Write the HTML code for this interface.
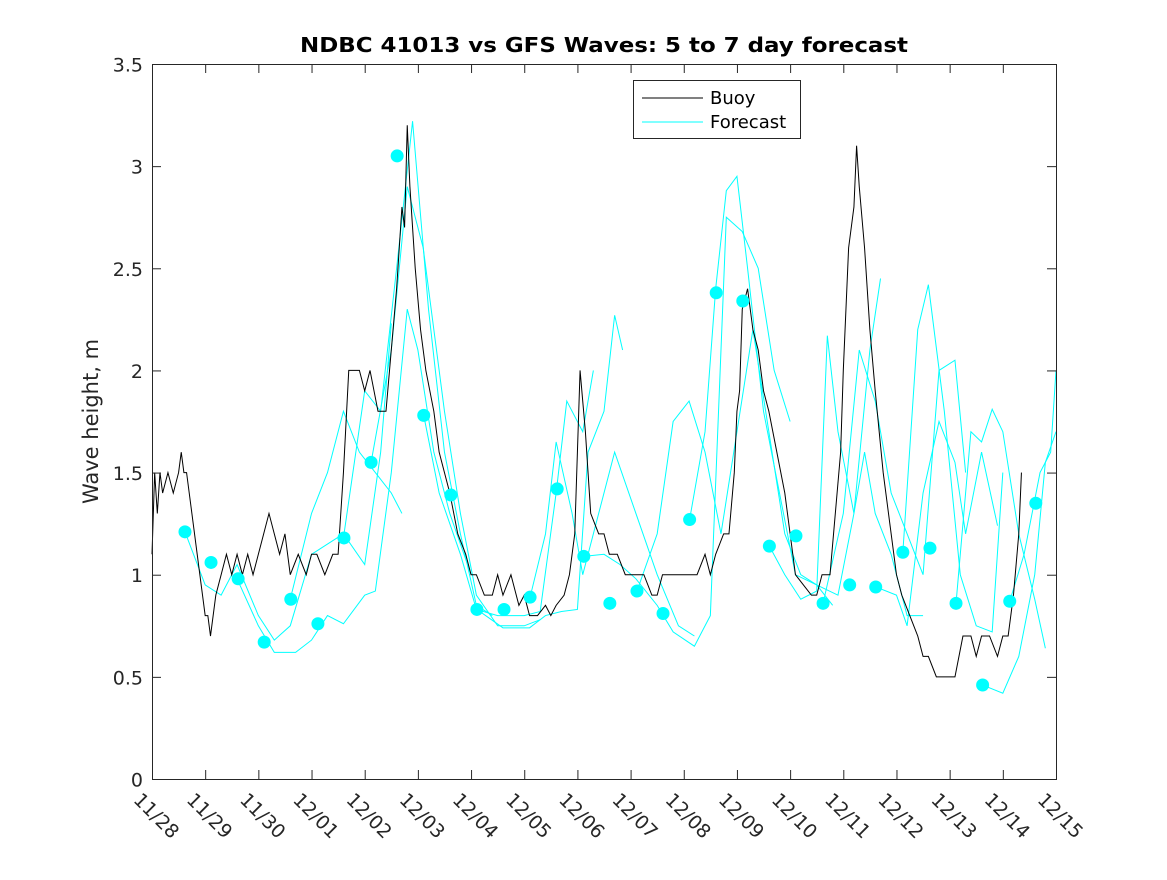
<!DOCTYPE html>
<html><head><meta charset="utf-8"><style>
body{margin:0;background:#fff;}
svg{font-family:"DejaVu Sans","Liberation Sans",sans-serif;}
</style></head><body>
<svg id="c" width="1167" height="875"></svg>
<script>
const dayLabels=["11/28","11/29","11/30","12/01","12/02","12/03","12/04","12/05","12/06","12/07","12/08","12/09","12/10","12/11","12/12","12/13","12/14","12/15"];
const yTicks=[0,0.5,1,1.5,2,2.5,3,3.5];
const buoyDays=[0,0.05,0.1,0.15,0.2,0.3,0.4,0.5,0.55,0.6,0.65,0.75,0.85,0.95,1.0,1.05,1.1,1.2,1.3,1.4,1.5,1.6,1.7,1.8,1.9,2.0,2.1,2.2,2.3,2.4,2.5,2.6,2.75,2.9,3.0,3.1,3.25,3.4,3.5,3.6,3.7,3.8,3.9,4.0,4.1,4.25,4.4,4.5,4.6,4.65,4.7,4.75,4.8,4.85,4.95,5.05,5.15,5.3,5.4,5.5,5.6,5.75,5.9,6.0,6.1,6.25,6.4,6.5,6.6,6.75,6.9,7.0,7.1,7.25,7.4,7.5,7.6,7.75,7.85,7.95,8.0,8.05,8.15,8.25,8.4,8.5,8.6,8.75,8.9,9.0,9.1,9.25,9.4,9.5,9.6,9.75,9.9,10.0,10.1,10.25,10.4,10.5,10.6,10.75,10.85,10.95,11.0,11.05,11.1,11.2,11.3,11.4,11.5,11.6,11.75,11.9,12.0,12.1,12.25,12.4,12.5,12.6,12.75,12.85,12.95,13.0,13.1,13.2,13.25,13.3,13.4,13.5,13.6,13.75,13.9,14.0,14.1,14.25,14.4,14.5,14.6,14.75,15.0,15.1,15.25,15.4,15.5,15.6,15.75,15.9,16.0,16.1,16.2,16.3,16.35];
const buoyVals=[1.1,1.5,1.3,1.5,1.4,1.5,1.4,1.5,1.6,1.5,1.5,1.3,1.1,0.9,0.8,0.8,0.7,0.9,1.0,1.1,1.0,1.1,1.0,1.1,1.0,1.1,1.2,1.3,1.2,1.1,1.2,1.0,1.1,1.0,1.1,1.1,1.0,1.1,1.1,1.5,2.0,2.0,2.0,1.9,2.0,1.8,1.8,2.1,2.4,2.6,2.8,2.7,3.2,2.9,2.5,2.2,2.0,1.8,1.6,1.5,1.4,1.2,1.1,1.0,1.0,0.9,0.9,1.0,0.9,1.0,0.85,0.9,0.8,0.8,0.85,0.8,0.85,0.9,1.0,1.2,1.6,2.0,1.7,1.3,1.2,1.2,1.1,1.1,1.0,1.0,1.0,1.0,0.9,0.9,1.0,1.0,1.0,1.0,1.0,1.0,1.1,1.0,1.1,1.2,1.2,1.5,1.8,1.9,2.3,2.4,2.2,2.1,1.9,1.8,1.6,1.4,1.2,1.0,0.95,0.9,0.9,1.0,1.0,1.3,1.6,2.0,2.6,2.8,3.1,2.9,2.6,2.2,1.9,1.5,1.2,1.0,0.9,0.8,0.7,0.6,0.6,0.5,0.5,0.5,0.7,0.7,0.6,0.7,0.7,0.6,0.7,0.7,0.9,1.2,1.5,1.6,1.6];
const dotDays=[0.62,1.11,1.62,2.11,2.61,3.12,3.61,4.12,4.61,5.11,5.62,6.11,6.62,7.11,7.62,8.12,8.61,9.12,9.61,10.11,10.61,11.11,11.61,12.11,12.62,13.12,13.61,14.12,14.63,15.12,15.62,16.13,16.62];
const dotVals=[1.21,1.06,0.98,0.67,0.88,0.76,1.18,1.55,3.05,1.78,1.39,0.83,0.83,0.89,1.42,1.09,0.86,0.92,0.81,1.27,2.38,2.34,1.14,1.19,0.86,0.95,0.94,1.11,1.13,0.86,0.46,0.87,1.35];
const fcA=[[0.62,1.21],[1.0,0.95],[1.3,0.9],[1.6,1.05],[2.0,0.8],[2.3,0.68],[2.6,0.75],[3.0,1.1],[3.3,1.15],[3.6,1.2],[4.0,1.05],[4.3,1.6],[4.5,2.23]];
const fcB=[[1.6,0.98],[2.0,0.75],[2.3,0.62],[2.7,0.62],[3.0,0.68],[3.3,0.8],[3.6,0.76],[4.0,0.9],[4.2,0.92],[4.5,1.5],[4.8,2.3],[5.0,2.1],[5.3,1.6],[5.6,1.3],[6.0,1.0]];
const fcC=[[2.6,0.88],[3.0,1.3],[3.3,1.5],[3.6,1.8],[3.9,1.6],[4.2,1.5],[4.5,1.4],[4.7,1.3]];
const fcD=[[3.6,1.18],[4.0,1.9],[4.3,1.8],[4.6,2.5],[4.9,3.22],[5.2,2.3],[5.5,1.6],[5.8,1.2],[6.1,0.85],[6.4,0.8]];
const fcE=[[4.12,1.55],[4.5,2.1],[4.8,2.9],[5.1,2.6],[5.5,1.8],[5.8,1.3],[6.1,0.9],[6.5,0.75],[7.0,0.75],[7.3,0.78]];
const fcF=[[5.11,1.78],[5.4,1.4],[5.8,1.1],[6.1,0.83],[6.5,0.8],[7.0,0.8],[7.3,0.82],[7.6,1.4],[7.8,1.85],[8.1,1.7],[8.3,2.0]];
const fcG=[[6.11,0.83],[6.6,0.74],[7.1,0.74],[7.4,0.8],[7.7,0.82],[8.0,0.83],[8.2,1.6],[8.5,1.8],[8.7,2.27],[8.85,2.1]];
const fcH=[[7.11,0.89],[7.4,1.2],[7.6,1.65],[7.9,1.3],[8.1,1.0],[8.4,1.3],[8.7,1.6],[9.1,1.3],[9.5,1.0],[9.9,0.75],[10.2,0.7]];
const fcI=[[8.12,1.09],[8.5,1.1],[8.8,1.05],[9.1,0.98],[9.5,0.85],[9.8,0.72],[10.2,0.65],[10.5,0.8],[10.8,2.75],[11.1,2.68],[11.4,2.5],[11.7,2.0],[12.0,1.75]];
const fcJ=[[9.12,0.92],[9.5,1.2],[9.8,1.75],[10.1,1.85],[10.4,1.6],[10.7,1.2],[11.0,1.7],[11.3,2.2],[11.6,1.7],[11.9,1.2],[12.2,1.0],[12.5,0.95],[12.8,0.85]];
const fcK=[[10.11,1.27],[10.4,1.7],[10.6,2.4],[10.8,2.88],[11.0,2.95],[11.2,2.5],[11.5,1.8],[11.8,1.4],[12.1,1.0],[12.5,0.95],[12.9,0.9],[13.2,1.3],[13.5,2.1],[13.7,2.45]];
const fcL=[[11.61,1.14],[11.9,1.0],[12.2,0.88],[12.5,0.92],[12.7,2.17],[12.9,1.7],[13.2,1.3],[13.4,1.6],[13.6,1.3],[13.9,1.1],[14.2,0.8],[14.5,0.8]];
const fcM=[[12.62,0.86],[13.0,1.3],[13.3,2.1],[13.6,1.85],[13.9,1.4],[14.2,1.2],[14.5,1.0],[14.8,2.0],[15.1,2.05],[15.3,1.5]];
const fcN=[[13.61,0.94],[14.0,0.9],[14.2,0.75],[14.5,1.4],[14.8,1.75],[15.1,1.55],[15.3,1.2],[15.6,1.6],[15.9,1.24]];
const fcO=[[14.12,1.11],[14.4,2.2],[14.6,2.42],[14.9,1.8],[15.2,1.0],[15.5,0.75],[15.8,0.72],[16.0,1.5]];
const fcP=[[15.12,0.86],[15.4,1.7],[15.6,1.65],[15.8,1.81],[16.0,1.7],[16.3,1.2],[16.6,0.88],[16.8,0.64]];
const fcQ=[[15.62,0.46],[16.0,0.42],[16.3,0.6],[16.6,1.0],[16.8,1.55],[17.0,1.7]];
const fcR=[[16.13,0.87],[16.4,1.1],[16.7,1.5],[16.9,1.6],[17.0,2.0]];
const forecasts=[fcA,fcB,fcC,fcD,fcE,fcF,fcG,fcH,fcI,fcJ,fcK,fcL,fcM,fcN,fcO,fcP,fcQ,fcR];

const L=152,R=1056,T=64,B=779;
const xs=d=>L+(R-L)*d/17;
const ys=v=>B-(B-T)*v/3.5;
const svg=document.getElementById('c');
const NS='http://www.w3.org/2000/svg';
function mk(tag,attrs,parent){const e=document.createElementNS(NS,tag);for(const k in attrs)e.setAttribute(k,attrs[k]);(parent||svg).appendChild(e);return e;}

const bg=mk('rect',{x:L,y:T,width:R-L,height:B-T,fill:'#fff',stroke:'none'});



const fg=mk('g',{fill:'none',stroke:'#00ffff','stroke-width':1});


forecasts.forEach((f,i)=>{
  const p=mk('polyline',{points:f.map(q=>xs(q[0])+','+ys(q[1])).join(' ')},fg);
  
  
});
const bl=mk('polyline',{points:buoyDays.map((d,i)=>xs(d)+','+ys(buoyVals[i])).join(' '),fill:'none',stroke:'#000','stroke-width':1});


dotDays.forEach((d,i)=>{
  const c=mk('circle',{cx:xs(d),cy:ys(dotVals[i]),r:6.5,fill:'#00ffff'});
  
  
});

const fr=mk('rect',{x:L+0.5,y:T+0.5,width:R-L,height:B-T,fill:'none',stroke:'#262626','stroke-width':1});



yTicks.forEach(v=>{
  const y=ys(v)+0.5;
  mk('line',{x1:L,x2:L+9,y1:y,y2:y,stroke:'#262626'});
  mk('line',{x1:R-9,x2:R,y1:y,y2:y,stroke:'#262626'});
  const t=mk('text',{x:L-9,y:y+7,'text-anchor':'end','font-size':19,fill:'#262626'});
  t.textContent=String(v);
  
  
});
dayLabels.forEach((s,i)=>{
  const x=xs(i)+0.5;
  mk('line',{x1:x,x2:x,y1:B,y2:B-9,stroke:'#262626'});
  mk('line',{x1:x,x2:x,y1:T,y2:T+9,stroke:'#262626'});
  const t=mk('text',{x:0,y:0,'font-size':19,fill:'#262626',transform:`translate(${x-20},${B+22}) rotate(45)`});
  t.textContent=s;
  
  
});

const title=mk('text',{x:(L+R)/2,y:52,'text-anchor':'middle','font-size':20,'font-weight':'bold',fill:'#000',textLength:608,lengthAdjust:'spacingAndGlyphs'});
title.textContent='NDBC 41013 vs GFS Waves: 5 to 7 day forecast';


const yl=mk('text',{x:0,y:0,'text-anchor':'middle','font-size':21,fill:'#262626',transform:`translate(98,${(T+B)/2}) rotate(-90)`});
yl.textContent='Wave height, m';



const lg=mk('g',{});


mk('rect',{x:633.5,y:80.5,width:167,height:58,fill:'#fff',stroke:'#262626'},lg);
mk('line',{x1:642,x2:703,y1:98,y2:98,stroke:'#000'},lg);
mk('line',{x1:642,x2:703,y1:122,y2:122,stroke:'#00ffff'},lg);
const t1=mk('text',{x:710,y:104,'font-size':18,fill:'#000'},lg);t1.textContent='Buoy';


const t2=mk('text',{x:710,y:128,'font-size':18,fill:'#000'},lg);t2.textContent='Forecast';


</script>
</body></html>
